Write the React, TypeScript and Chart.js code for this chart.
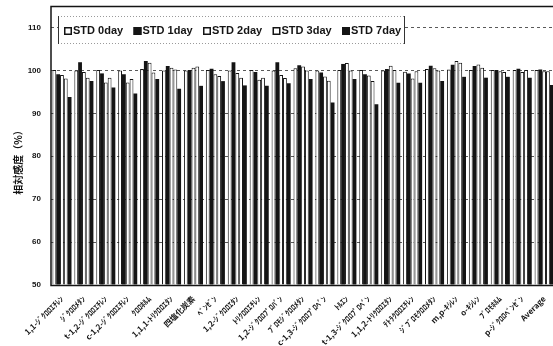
import { useEffect, useRef } from "react";
import { Chart, registerables } from "chart.js";

Chart.register(...registerables);

// Compounds on the category axis (half-width katakana as printed)
const compounds = [
  "1,1-ｼﾞｸﾛﾛｴﾁﾚﾝ",
  "ｼﾞｸﾛﾛﾒﾀﾝ",
  "t-1,2-ｼﾞｸﾛﾛｴﾁﾚﾝ",
  "c-1,2-ｼﾞｸﾛﾛｴﾁﾚﾝ",
  "ｸﾛﾛﾎﾙﾑ",
  "1,1,1-ﾄﾘｸﾛﾛｴﾀﾝ",
  "四塩化炭素",
  "ﾍﾞﾝｾﾞﾝ",
  "1,2-ｼﾞｸﾛﾛｴﾀﾝ",
  "ﾄﾘｸﾛﾛｴﾁﾚﾝ",
  "1,2-ｼﾞｸﾛﾛﾌﾟﾛﾊﾟﾝ",
  "ﾌﾞﾛﾓｼﾞｸﾛﾛﾒﾀﾝ",
  "c-1,3-ｼﾞｸﾛﾛﾌﾟﾛﾍﾟﾝ",
  "ﾄﾙｴﾝ",
  "t-1,3-ｼﾞｸﾛﾛﾌﾟﾛﾍﾟﾝ",
  "1,1,2-ﾄﾘｸﾛﾛｴﾀﾝ",
  "ﾃﾄﾗｸﾛﾛｴﾁﾚﾝ",
  "ｼﾞﾌﾞﾛﾓｸﾛﾛﾒﾀﾝ",
  "m,p-ｷｼﾚﾝ",
  "o-ｷｼﾚﾝ",
  "ﾌﾞﾛﾓﾎﾙﾑ",
  "p-ｼﾞｸﾛﾛﾍﾞﾝｾﾞﾝ",
  "Average",
];

const seriesNames = ["STD 0day", "STD 1day", "STD 2day", "STD 3day", "STD 7day"];

// Relative sensitivity (%) per storage day
const std0day = [100.1, 100, 100.1, 100, 100.3, 100, 100, 100.1, 100, 100.1, 100, 100.5, 100, 100.1, 100.1, 100, 99.7, 100.3, 100.2, 100.1, 100.1, 100.1, 100.1];
const std1day = [99.1, 101.9, 99.3, 99.1, 102.2, 101.0, 100.1, 100.4, 101.9, 99.6, 101.9, 101.2, 99.5, 101.5, 99.1, 100.3, 99.3, 101.1, 101.3, 101.0, 100.1, 100.4, 100.2];
const std2day = [98.9, 99.6, 97.2, 97.2, 101.8, 100.6, 100.6, 99.1, 99.4, 97.8, 98.9, 100.9, 98.6, 101.7, 98.8, 101.1, 98.1, 100.5, 102.2, 101.4, 99.8, 99.6, 99.8];
const std3day = [98.1, 98.3, 98.3, 98.0, 99.5, 100.2, 100.9, 98.7, 98.3, 98.3, 98.2, 100.0, 97.6, 100.0, 97.5, 100.1, 99.8, 100.0, 101.8, 100.6, 99.6, 100.1, 99.8];
const std7day = [93.8, 97.5, 96.0, 94.6, 98.0, 95.7, 96.4, 97.5, 96.5, 96.4, 97.0, 98.0, 92.5, 98.0, 92.1, 97.1, 97.1, 97.5, 98.5, 98.3, 98.5, 98.3, 96.6];

const yMin = 50;
const yMax = 115;
const yTickValues = [50, 60, 70, 80, 90, 100, 110];
const yTitle = "相対感度（%）";

const seriesValues = [std0day, std1day, std2day, std3day, std7day];
const seriesFilled = [false, true, false, false, true];

const INK = "#141414";

const decorPlugin = {
  id: "decor",
  afterDraw(chart: any) {
    const { ctx, chartArea: a } = chart;
    ctx.save();

    // plot frame
    ctx.strokeStyle = INK;
    ctx.lineWidth = 1.5;
    ctx.strokeRect(a.left, a.top + 0.5, a.right - a.left, a.bottom - a.top);

    // legend panel inside the plot
    const lx = a.left + 7;
    const ly = a.top + 10;
    const lw = 347;
    const lh = 28;
    ctx.fillStyle = "#ffffff";
    ctx.fillRect(lx, ly, lw, lh);
    ctx.lineWidth = 1;
    ctx.strokeStyle = "#9a9a9a";
    ctx.setLineDash([1, 2]);
    ctx.beginPath();
    ctx.moveTo(lx, ly + 0.5);
    ctx.lineTo(lx + lw, ly + 0.5);
    ctx.moveTo(lx, ly + lh - 0.5);
    ctx.lineTo(lx + lw, ly + lh - 0.5);
    ctx.stroke();
    ctx.setLineDash([]);
    ctx.strokeStyle = "#333";
    ctx.beginPath();
    ctx.moveTo(lx + 0.5, ly);
    ctx.lineTo(lx + 0.5, ly + lh);
    ctx.moveTo(lx + lw - 0.5, ly);
    ctx.lineTo(lx + lw - 0.5, ly + lh);
    ctx.stroke();

    ctx.font = "bold 11px 'Liberation Sans', Arial, sans-serif";
    ctx.textBaseline = "middle";
    ctx.textAlign = "left";
    const cy = ly + lh / 2 + 1;
    seriesNames.forEach((name, i) => {
      const bx = lx + 6 + i * 69.5;
      ctx.fillStyle = seriesFilled[i] ? INK : "#ffffff";
      ctx.fillRect(bx, cy - 4, 8, 8);
      ctx.strokeStyle = INK;
      ctx.lineWidth = 1.5;
      ctx.strokeRect(bx + 0.75, cy - 3.25, 6.5, 6.5);
      ctx.fillStyle = INK;
      ctx.fillText(name, bx + 9, cy);
    });

    // vertical axis title
    ctx.translate(18, 160);
    ctx.rotate(-Math.PI / 2);
    ctx.textAlign = "center";
    ctx.font = "bold 10px 'Noto Sans CJK JP', sans-serif";
    ctx.fillStyle = INK;
    ctx.fillText(yTitle, 0, 0);

    ctx.restore();
  },
};

export default function App() {
  const canvasRef = useRef<HTMLCanvasElement | null>(null);

  useEffect(() => {
    const canvas = canvasRef.current;
    if (!canvas) return;
    const chart = new Chart(canvas, {
      type: "bar",
      data: {
        labels: compounds,
        datasets: seriesNames.map((name, i) => ({
          label: name,
          data: seriesValues[i],
          base: yMin,
          backgroundColor: seriesFilled[i] ? INK : "#ffffff",
          borderColor: INK,
          borderWidth: seriesFilled[i] ? 0 : 1,
          borderSkipped: "start",
          categoryPercentage: 0.87,
          barPercentage: 1.0,
        })),
      },
      options: {
        responsive: false,
        animation: false,
        devicePixelRatio: 1,
        layout: { padding: { left: 0, top: 6, right: 4, bottom: 0 } },
        plugins: {
          legend: { display: false },
          tooltip: { enabled: false },
        },
        scales: {
          x: {
            grid: { display: false, drawTicks: false },
            border: { display: false },
            ticks: {
              autoSkip: false,
              minRotation: 45,
              maxRotation: 45,
              padding: 9,
              color: INK,
              font: { family: "'Noto Sans CJK JP', sans-serif", size: 8, weight: "bold" },
            },
            afterFit: (scale: any) => {
              scale.height = 61;
            },
          },
          y: {
            min: yMin,
            max: yMax,
            grid: {
              color: "#5a5a5a",
              lineWidth: 1,
              drawTicks: true,
              tickLength: 10,
              tickColor: "rgba(0,0,0,0)",
            },
            border: { display: false, dash: [3, 3] },
            ticks: {
              stepSize: 10,
              padding: 0,
              color: INK,
              font: { family: "'Liberation Sans', Arial, sans-serif", size: 8, weight: "bold" },
            },
            afterBuildTicks: (scale: any) => {
              scale.ticks = yTickValues.map((v) => ({ value: v }));
            },
            afterFit: (scale: any) => {
              scale.width = 51;
            },
          },
        },
      },
      plugins: [decorPlugin],
    });
    return () => chart.destroy();
  }, []);

  return (
    <div
      style={{
        position: "absolute",
        left: 0,
        top: 0,
        width: 553,
        height: 346,
        overflow: "hidden",
        background: "#ffffff",
      }}
    >
      <canvas ref={canvasRef} width={560} height={346} />
    </div>
  );
}
